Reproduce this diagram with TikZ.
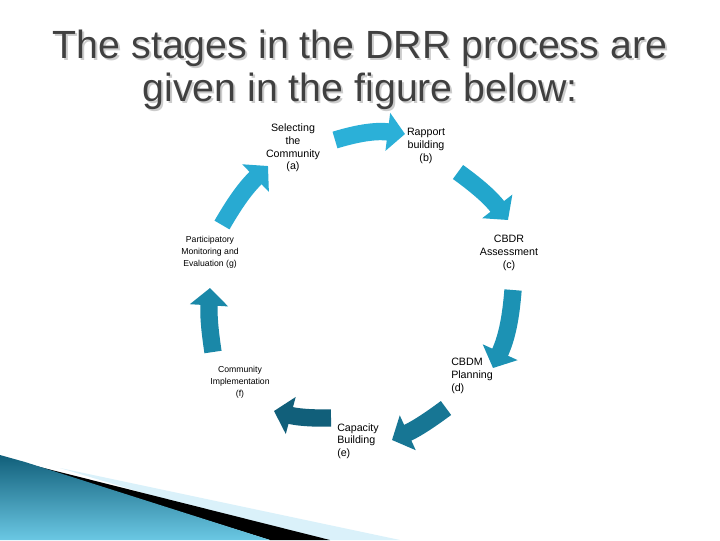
\documentclass[tikz,border=0pt]{standalone}
\usepackage{fontspec}
\setmainfont{Liberation Sans}
\usetikzlibrary{arrows.meta}
\definecolor{c1}{HTML}{2BB0D8}
\definecolor{c2}{HTML}{22A6CC}
\definecolor{c3}{HTML}{1C92B4}
\definecolor{c4}{HTML}{177694}
\definecolor{c5}{HTML}{115F7A}
\definecolor{c6}{HTML}{1A88A8}
\definecolor{c7}{HTML}{28AAD2}
\definecolor{ttl}{HTML}{404040}
\tikzset{
 bigarrow/.style={line width=13pt,-{Triangle[length=13pt,width=28pt]}},
 lbl/.style={align=center,font=\fontsize{8}{9.5}\selectfont,inner sep=1pt,text=black},
 slbl/.style={align=center,font=\fontsize{6.5}{9}\selectfont,inner sep=1pt,text=black},
 ttlstyle/.style={font=\fontsize{29.5}{32}\selectfont,text=ttl,align=center}
}
\begin{document}
\begin{tikzpicture}[x=0.75pt,y=-0.75pt]
\useasboundingbox (0,0) rectangle (720,540);
\fill[white] (0,0) rectangle (720,540);
% bottom-left decoration
\fill[black!8!cyan!15] (60,468) -- (400,540) -- (300,540) -- cycle;
\fill[black] (20,462) -- (330,540) -- (270,540) -- cycle;
\shade[left color=c5, right color=c1!70, shading angle=0] (0,455) -- (25,462) -- (270,540) -- (0,540) -- cycle;
% title
\node[ttlstyle,text=black!20] (tshadow) at (362,72) {The stages in the DRR process are\\given in the figure below:};
\node[ttlstyle] (title) at (360,70) {The stages in the DRR process are\\given in the figure below:};
% labels
\node[lbl] (a) at (293,148) {Selecting\\the\\Community\\(a)};
\node[lbl] (b) at (426,146) {Rapport\\building\\(b)};
\node[lbl] (c) at (509,253) {CBDR\\Assessment\\(c)};
\node[lbl,align=left] (d) at (472,376) {CBDM\\Planning\\(d)};
\node[lbl,align=left] (e) at (358,441) {Capacity\\Building\\(e)};
\node[slbl] (f) at (240,382) {Community\\Implementation\\(f)};
\node[slbl] (g) at (210,252) {Participatory\\Monitoring and\\Evaluation (g)};
% arrows
\draw[bigarrow,c1] (335,140) to[bend left=12] (405,134);
\draw[bigarrow,c2] (458,172) to[bend left=8] (508,220);
\draw[bigarrow,c3] (513,290) to[bend left=10] (493,368);
\draw[bigarrow,c4] (446,408) to[bend left=6] (392,440);
\draw[bigarrow,c5] (331,418) to[bend left=8] (274,411);
\draw[bigarrow,c6] (213,352) to[bend left=6] (210,288);
\draw[bigarrow,c7] (222,225) to[bend left=8] (268,166);
\end{tikzpicture}
\end{document}
